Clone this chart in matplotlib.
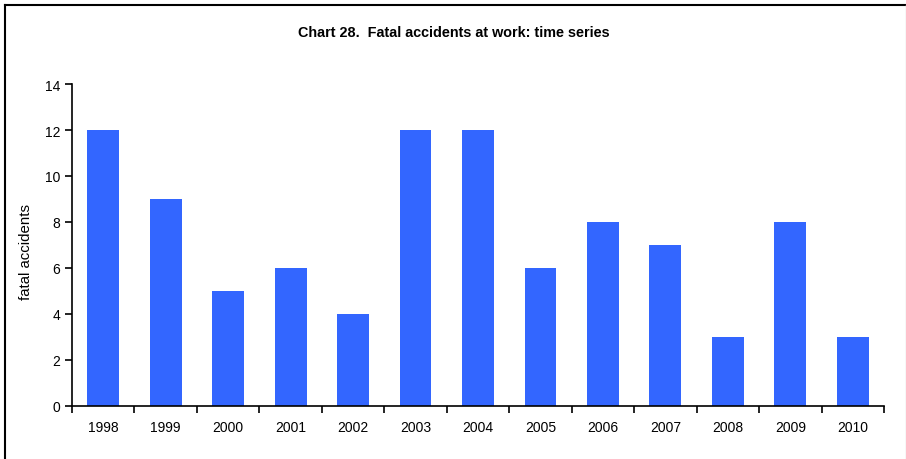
import matplotlib
matplotlib.use("Agg")
import matplotlib.pyplot as plt
from matplotlib.lines import Line2D
import numpy as np

years = ["1998", "1999", "2000", "2001", "2002", "2003", "2004",
         "2005", "2006", "2007", "2008", "2009", "2010"]
fatal = [12, 9, 5, 6, 4, 12, 12, 6, 8, 7, 3, 8, 3]

plt.rcParams['font.family'] = ['Liberation Sans', 'DejaVu Sans']

fig = plt.figure(figsize=(9.06, 4.6), dpi=100)
ax = fig.add_axes([72/906, 1-407/460, (884-72)/906, (407-85)/460])

x = np.arange(len(years))
ax.bar(x, fatal, width=0.51, color="#3366FF", zorder=2)

ax.set_xlim(-0.5, len(years)-0.5)
ax.set_ylim(0, 14)
ax.set_yticks(range(0, 15, 2))
ax.set_xticks(x)
ax.set_xticklabels(years, fontsize=10)
ax.set_xticks(np.arange(-0.5, len(years), 1.0), minor=True)
ax.tick_params(axis='x', which='major', length=0, pad=10)
ax.tick_params(axis='x', which='minor', length=5, width=1.2, direction='out')
ax.tick_params(axis='y', length=5, width=1.2, direction='out', labelsize=10)

for s in ['top', 'right']:
    ax.spines[s].set_visible(False)
for s in ['left', 'bottom']:
    ax.spines[s].set_linewidth(1.2)

ax.set_ylabel("fatal accidents", fontsize=10.8)
ax.yaxis.set_label_coords((33 - 72)/(884-72), 0.5 - ((252 - 246)/(407-85)))
fig.text(454/906, 1-33/460, "Chart 28.  Fatal accidents at work: time series",
         ha='center', va='center', fontsize=10.4, fontweight='bold')

# page frame: left and top dark, right faint
fig.add_artist(Line2D([4.5/906, 4.5/906], [0, 1-5.5/460], transform=fig.transFigure,
                      color='black', linewidth=1.5))
fig.add_artist(Line2D([4.5/906, 905.5/906], [1-5.5/460, 1-5.5/460], transform=fig.transFigure,
                      color='black', linewidth=1.5))
fig.add_artist(Line2D([905.5/906, 905.5/906], [0, 1-5.5/460], transform=fig.transFigure,
                      color='#d8d8d8', linewidth=1.0))

fig.savefig("out.png", dpi=100)
